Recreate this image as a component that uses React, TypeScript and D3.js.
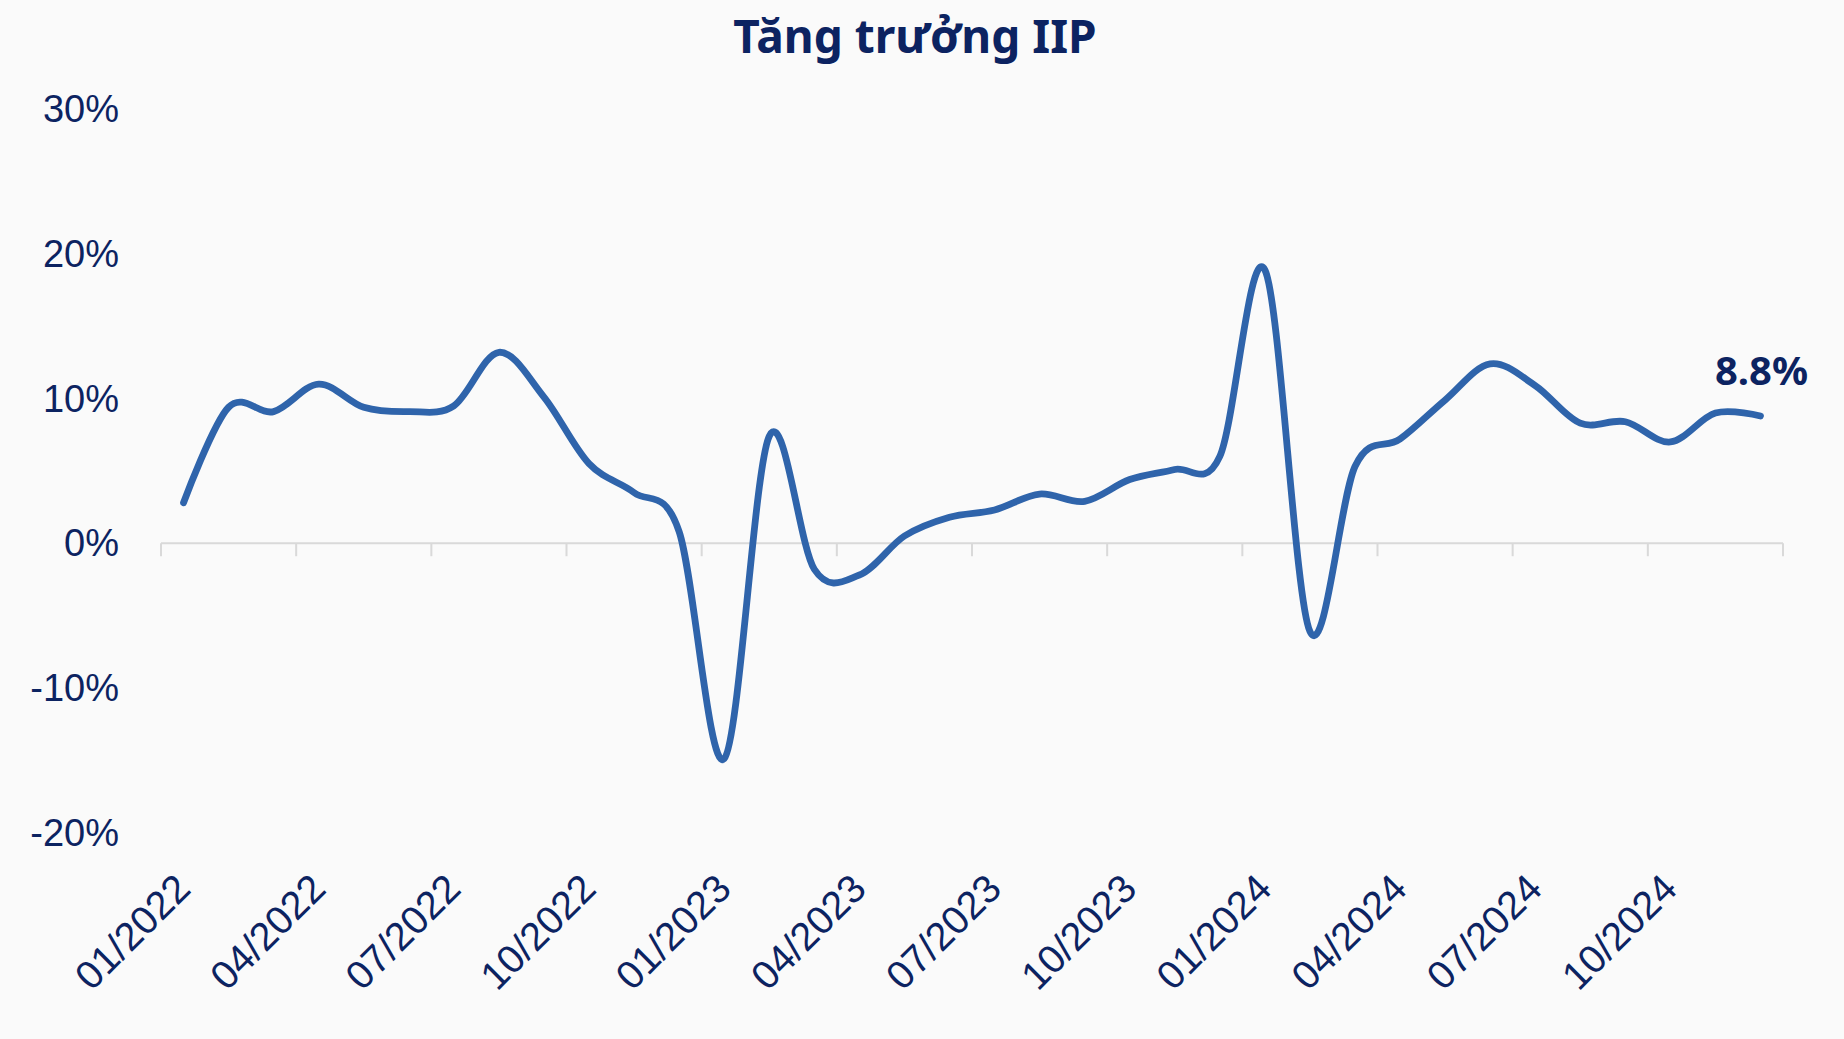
import React from "react";
import * as d3 from "d3";

const W = 1844;
const H = 1039;

const titleText = "Tăng trưởng IIP";

const months = [
  "01/2022", "02/2022", "03/2022", "04/2022", "05/2022", "06/2022",
  "07/2022", "08/2022", "09/2022", "10/2022", "11/2022", "12/2022",
  "01/2023", "02/2023", "03/2023", "04/2023", "05/2023", "06/2023",
  "07/2023", "08/2023", "09/2023", "10/2023", "11/2023", "12/2023",
  "01/2024", "02/2024", "03/2024", "04/2024", "05/2024", "06/2024",
  "07/2024", "08/2024", "09/2024", "10/2024", "11/2024", "12/2024",
];

const iipGrowth = [
  2.8, 9.4, 9.1, 11.0, 9.4, 9.1, 9.5, 13.2, 10.1, 5.5, 3.5, 0.8,
  -14.9, 7.4, -1.8, -2.2, 0.5, 1.8, 2.3, 3.4, 2.9, 4.4, 5.1, 6.0,
  18.9, -6.1, 5.3, 7.2, 9.9, 12.4, 10.9, 8.3, 8.4, 7.0, 9.0, 8.8,
];

const yTicks = [-20, -10, 0, 10, 20, 30];
const xLabelMonths = [
  "01/2022", "04/2022", "07/2022", "10/2022",
  "01/2023", "04/2023", "07/2023", "10/2023",
  "01/2024", "04/2024", "07/2024", "10/2024",
];
const lastLabel = "8.8%";

const NAVY = "#0c2361";
const LINE = "#2f64ab";

export default function App() {
  const x = d3
    .scaleBand<string>()
    .domain(months)
    .range([161, 1783])
    .padding(0);
  const bw = x.bandwidth();
  const cx = (m: string) => (x(m) as number) + bw / 2;

  const y = d3.scaleLinear().domain([-20, 30]).range([832.5, 109.3]);

  const line = d3
    .line<number>()
    .x((_, i) => cx(months[i]))
    .y((v) => y(v))
    .curve(d3.curveCardinal.tension(0));

  const tickPositions = months
    .map((m, i) => ({ m, i }))
    .filter((d) => d.i % 3 === 0)
    .map((d) => x(d.m) as number)
    .concat([1783]);

  const lastIdx = iipGrowth.length - 1;

  return (
    <svg
      width={W}
      height={H}
      style={{ position: "absolute", left: 0, top: 0, background: "#fafafa" }}
    >
      <rect x={0} y={0} width={W} height={H} fill="#fafafa" />
      <text
        x={915}
        y={53}
        textAnchor="middle"
        fontFamily="'Noto Sans', 'Open Sans', sans-serif"
        fontWeight={700}
        fontSize={46}
        fill={NAVY}
      >
        {titleText}
      </text>

      {yTicks.map((t) => (
        <text
          key={t}
          x={119}
          y={y(t) + 13}
          textAnchor="end"
          fontFamily="'Liberation Sans', Arial, sans-serif"
          fontSize={38}
          fill={NAVY}
        >
          {`${t}%`}
        </text>
      ))}

      <line
        x1={161}
        x2={1783}
        y1={y(0)}
        y2={y(0)}
        stroke="#d9d9d9"
        strokeWidth={2}
      />
      {tickPositions.map((p, i) => (
        <line
          key={i}
          x1={p}
          x2={p}
          y1={y(0)}
          y2={y(0) + 13}
          stroke="#d9d9d9"
          strokeWidth={2}
        />
      ))}

      {xLabelMonths.map((m) => (
        <text
          key={m}
          transform={`translate(${cx(m) + 9}, 891) rotate(-45)`}
          textAnchor="end"
          fontFamily="'Liberation Sans', Arial, sans-serif"
          fontSize={39.5}
          fill={NAVY}
        >
          {m}
        </text>
      ))}

      <path
        d={line(iipGrowth) || ""}
        fill="none"
        stroke={LINE}
        strokeWidth={6.8}
        strokeLinecap="round"
        strokeLinejoin="round"
      />

      <text
        x={cx(months[lastIdx]) + 1}
        y={y(iipGrowth[lastIdx]) - 31}
        textAnchor="middle"
        fontFamily="'Noto Sans', 'Open Sans', sans-serif"
        fontWeight={700}
        fontSize={40}
        fill={NAVY}
      >
        {lastLabel}
      </text>
    </svg>
  );
}
